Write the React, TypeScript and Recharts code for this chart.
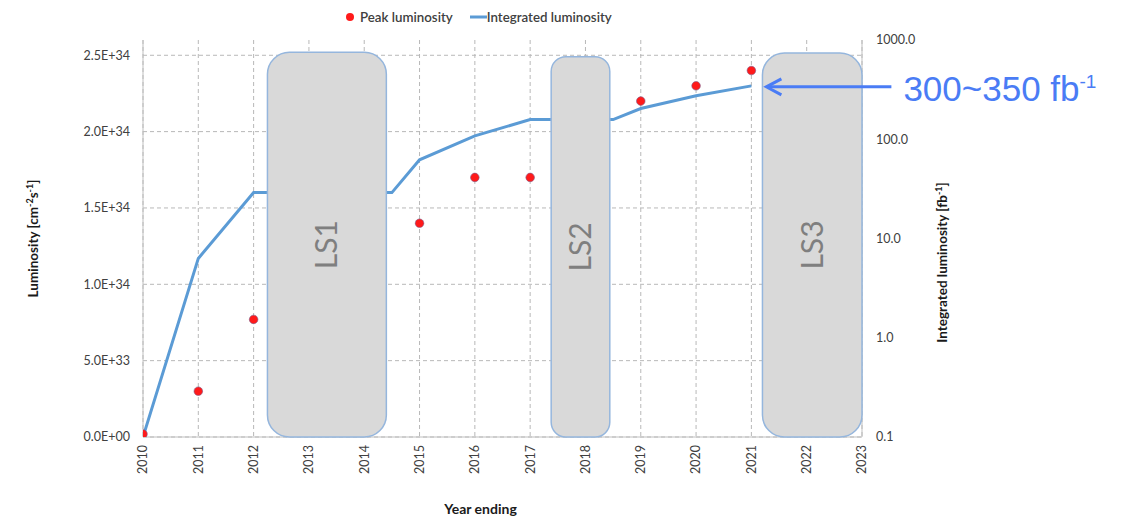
import { ComposedChart, Line, XAxis, YAxis, CartesianGrid, Legend, ReferenceArea, ReferenceDot } from 'recharts';

// years shown on the x axis
const years = [2010, 2011, 2012, 2013, 2014, 2015, 2016, 2017, 2018, 2019, 2020, 2021, 2022, 2023];

// peak luminosity, cm^-2 s^-1 (left axis)
const peakYears = [2010, 2011, 2012, 2015, 2016, 2017, 2019, 2020, 2021];
const peakValues = [2e32, 3.0e33, 7.7e33, 1.4e34, 1.7e34, 1.7e34, 2.2e34, 2.3e34, 2.4e34];

// integrated luminosity, fb^-1 (right axis, log)
const intYears = [2010, 2011, 2012, 2014.5, 2015, 2016, 2017, 2018.5, 2019, 2020, 2021];
const intValues = [0.1, 6.3, 29, 29, 62, 108, 158, 158, 204, 274, 345];

const leftTicks = [0, 5e33, 1e34, 1.5e34, 2e34, 2.5e34];
const leftTickLabels = ['0.0E+00', '5.0E+33', '1.0E+34', '1.5E+34', '2.0E+34', '2.5E+34'];
const rightTicks = [0.1, 1, 10, 100, 1000];
const rightTickLabels = ['0.1', '1.0', '10.0', '100.0', '1000.0'];

// long shutdowns
const shutdownNames = ['LS1', 'LS2', 'LS3'];
const shutdownStart = [2012.25, 2017.38, 2021.2];
const shutdownEnd = [2014.4, 2018.44, 2023];
const shutdownTop = [2.52e34, 2.49e34, 2.515e34];

const peakName = 'Peak luminosity';
const intName = 'Integrated luminosity';
const annotation = '300~350 fb';

const peakData = peakYears.map((year, i) => ({ year, peak: peakValues[i] }));
const intData = intYears.map((year, i) => ({ year, integrated: intValues[i] }));

const FONT = 'Lato, "Open Sans", sans-serif';
const TEXT = '#404040';
const LINE_BLUE = '#5B9BD5';
const DOT_RED = '#FF1A1A';
const NOTE_BLUE = '#4A7CF5';

function PeakDot(props: any) {
  const { cx, cy } = props;
  if (cx == null || cy == null) return null;
  return <circle cx={cx} cy={cy} r={4.3} fill={DOT_RED} stroke="#7d5b8a" strokeWidth={0.6} />;
}

function YearTick(props: any) {
  const { x, y, payload } = props;
  return (
    <text x={x} y={y} transform={`rotate(-90 ${x} ${y})`} textAnchor="end" dy="0.35em"
      fill={TEXT} fontSize={12.5} fontFamily={FONT}>
      {payload.value}
    </text>
  );
}

function LegendContent() {
  return (
    <div style={{ display: 'flex', alignItems: 'center', fontFamily: FONT, fontSize: 13.3, color: TEXT, fontWeight: 600 }}>
      <svg width={10} height={10}><circle cx={5} cy={5} r={4} fill={DOT_RED} /></svg>
      <span style={{ marginLeft: 5 }}>{peakName}</span>
      <svg width={17} height={10} style={{ marginLeft: 17 }}><line x1={0} y1={5} x2={17} y2={5} stroke={LINE_BLUE} strokeWidth={3} /></svg>
      <span>{intName}</span>
    </div>
  );
}

function LeftTitle(props: any) {
  const { viewBox } = props;
  const x = viewBox.x + 33;
  const y = viewBox.y + viewBox.height / 2;
  return (
    <text x={x} y={y} transform={`rotate(-90 ${x} ${y})`} textAnchor="middle" dy="0.35em"
      fontFamily={FONT} fontWeight="bold" fontSize={13.5} fill="#1a1a1a">
      Luminosity [cm<tspan dy={-5} fontSize={9}>-2</tspan><tspan dy={5}>s</tspan>
      <tspan dy={-5} fontSize={9}>-1</tspan><tspan dy={5}>]</tspan>
    </text>
  );
}

function RightTitle(props: any) {
  const { viewBox } = props;
  const x = viewBox.x + 80;
  const y = viewBox.y + viewBox.height / 2 + 24;
  return (
    <text x={x} y={y} transform={`rotate(-90 ${x} ${y})`} textAnchor="middle" dy="0.35em"
      fontFamily={FONT} fontWeight="bold" fontSize={13.5} fill="#1a1a1a">
      Integrated luminosity [fb<tspan dy={-5} fontSize={9}>-1</tspan><tspan dy={5}>]</tspan>
    </text>
  );
}

function XTitle(props: any) {
  const { viewBox } = props;
  return (
    <text x={viewBox.x + viewBox.width / 2 - 22} y={viewBox.y + 77} textAnchor="middle"
      fontFamily={FONT} fontWeight="bold" fontSize={14} fill="#1a1a1a">
      Year ending
    </text>
  );
}

function shutdownShape(name: string) {
  return (props: any) => {
    const { x, y, width, height } = props;
    const r = Math.min(22, width / 4);
    const cx = x + width / 2;
    const cy = y + height / 2;
    return (
      <g>
        <rect x={x} y={y} width={width} height={height} rx={r} ry={r}
          fill="#D9D9D9" stroke="#95B6DD" strokeWidth={1.5} />
        <text x={cx} y={cy} transform={`rotate(-90 ${cx} ${cy})`} textAnchor="middle" dy="0.35em"
          fontFamily={FONT} fontSize={30} fill="#7F7F7F">
          {name}
        </text>
      </g>
    );
  };
}

function ArrowNote(props: any) {
  const { cx, cy } = props;
  if (cx == null || cy == null) return null;
  const tip = cx + 15;
  const y = cy + 1;
  return (
    <g>
      <line x1={tip + 1} y1={y} x2={tip + 125} y2={y} stroke={NOTE_BLUE} strokeWidth={3} />
      <polyline points={`${tip + 15},${y - 8} ${tip},${y} ${tip + 15},${y + 8}`} fill="none"
        stroke={NOTE_BLUE} strokeWidth={3} strokeLinejoin="miter" />
      <text x={tip + 137} y={y + 14} fontFamily='"Liberation Sans", Arial, sans-serif' fontSize={35} fill={NOTE_BLUE}>
        {annotation}<tspan dy={-13} fontSize={19}>-1</tspan>
      </text>
    </g>
  );
}

export default function App() {
  return (
    <div style={{ position: 'absolute', left: 0, top: 0, background: '#fff' }}>
      <ComposedChart width={1125} height={521} margin={{ top: 40, right: 183, bottom: 0, left: 0 }}>
        <CartesianGrid yAxisId="left" syncWithTicks stroke="#b8b8b8" strokeDasharray="4 3" />
        <XAxis dataKey="year" type="number" domain={[2010, 2023]} ticks={years} interval={0}
          allowDataOverflow height={84} tick={<YearTick />} tickLine={false}
          axisLine={{ stroke: '#bfbfbf' }} label={<XTitle />} />
        <YAxis yAxisId="left" domain={[0, 2.6e34]} ticks={leftTicks} width={143} allowDataOverflow
          tickFormatter={(v: number) => leftTickLabels[leftTicks.indexOf(v)] ?? ''}
          tick={{ fill: TEXT, fontSize: 12.5, fontFamily: FONT }} tickLine={false} tickMargin={7}
          axisLine={{ stroke: '#bfbfbf' }} label={<LeftTitle />} />
        <YAxis yAxisId="right" orientation="right" scale="log" domain={[0.1, 1000]} ticks={rightTicks}
          width={80} allowDataOverflow
          tickFormatter={(v: number) => rightTickLabels[rightTicks.indexOf(v)] ?? ''}
          tick={{ fill: TEXT, fontSize: 12.5, fontFamily: FONT, textAnchor: 'start' }} tickLine={false} tickMargin={8}
          axisLine={{ stroke: '#bfbfbf' }} label={<RightTitle />} />
        <Legend layout="horizontal" verticalAlign="middle" align="center" content={<LegendContent />}
          wrapperStyle={{ top: 9, left: 345, width: 320, height: 18 }} />
        <Line yAxisId="right" data={intData} dataKey="integrated" name={intName} type="linear"
          stroke={LINE_BLUE} strokeWidth={3} dot={false} activeDot={false} isAnimationActive={false} />
        <Line yAxisId="left" data={peakData} dataKey="peak" name={peakName} stroke="none"
          dot={<PeakDot />} activeDot={false} isAnimationActive={false} legendType="circle" />
        {shutdownNames.map((name, i) => (
          <ReferenceArea key={name} yAxisId="left" x1={shutdownStart[i]} x2={shutdownEnd[i]}
            y1={0} y2={shutdownTop[i]} zIndex={1500} shape={shutdownShape(name)} />
        ))}
        <ReferenceDot yAxisId="right" x={intYears[intYears.length - 1]} y={intValues[intValues.length - 1]}
          zIndex={1600} shape={<ArrowNote />} ifOverflow="visible" />
      </ComposedChart>
    </div>
  );
}
